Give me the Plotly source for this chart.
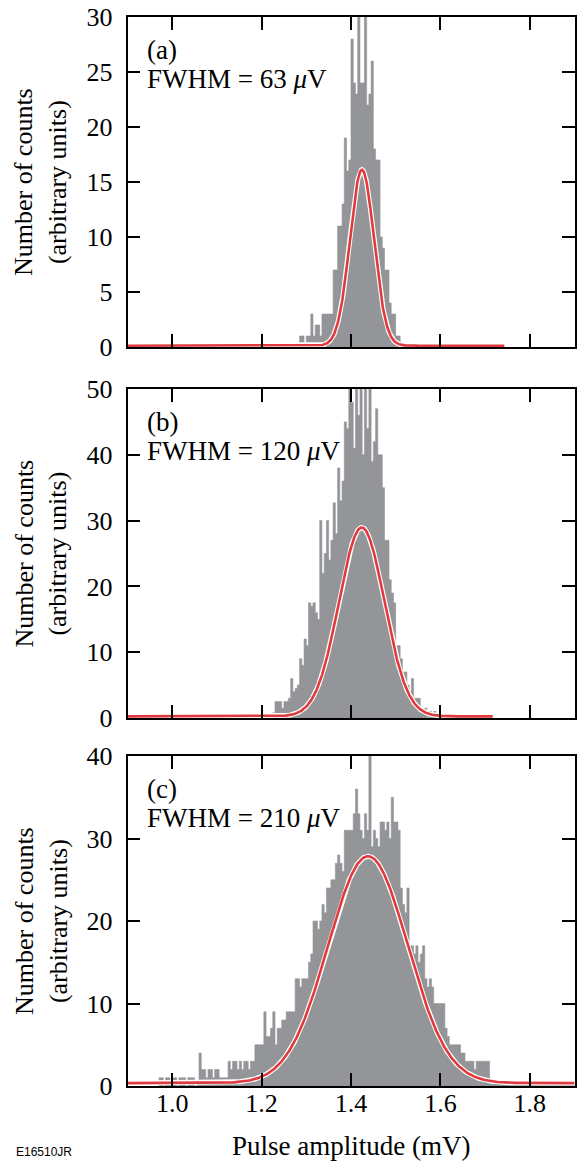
import numpy as np
import plotly.graph_objects as go

# ---------------- data ----------------
BIN_WIDTH = 0.005  # mV, histogram bin width

# Panel (a): histogram counts, bins start at a_start (mV)
a_start = 1.280
a_counts = [0, 1, 1, 0, 1, 1, 3, 1, 2, 2,
            1, 3, 3, 3, 3, 3, 7, 7, 11, 11,
            13, 19, 16, 17, 28, 24, 23, 32, 24, 24,
            32, 22, 23, 26, 18, 17, 17, 10, 9, 7,
            7, 4, 3, 3, 1, 1, 0]

# Panel (b)
b_start = 1.195
b_counts = [0.6, 0.6, 0.6, 0.6, 0.6, 0.6, 0.8, 2.5, 2.5, 2.5,
            1.5, 2.5, 2.5, 3, 6, 4, 4.5, 5, 9, 8,
            12, 11, 17.5, 17, 17.5, 16, 15, 30, 22, 25,
            30, 24, 27, 32.7, 28, 38, 33, 36, 45, 44,
            52, 48, 41, 52, 46, 52, 40, 52, 44, 52,
            39, 42, 47, 40, 40, 35, 27, 27, 21, 19,
            17.5, 11, 11, 9, 7, 7, 5, 4, 6, 3,
            3, 3, 1, 1, 1.5, 1, 1, 0.5, 1, 0.5,
            0.5, 0.5, 0.3]

# Panel (c)
c_start = 0.970
c_counts = [1, 1, 0, 1, 1, 0, 1, 1, 0, 1,
            1, 1, 0, 1, 1, 1, 0, 0.5, 4, 2,
            2, 1, 2, 2, 1, 2, 2, 1, 1, 1,
            1, 3, 2, 3, 3, 2, 3, 2, 3, 3,
            2, 3, 3, 5, 5, 5, 5, 9, 6, 6,
            7, 9, 5, 7, 7, 8, 8, 9, 9, 9,
            9, 13, 13, 12, 13, 13, 13, 15, 16, 20,
            20, 19, 20, 22, 21, 24, 24, 25, 25, 27,
            28, 27, 26, 31, 31, 31, 31, 33, 36, 33,
            31, 30, 33, 31, 40.5, 29, 31, 30, 29, 32,
            32, 31, 32, 30, 35, 32, 32, 31, 24, 22,
            21, 24, 17, 17, 16, 17, 15, 16, 17, 13,
            12, 13, 12, 10, 10, 10, 10, 10, 7, 6,
            5, 5, 5, 5, 5, 4, 4, 3, 3, 3,
            3, 2, 3, 3, 3, 3, 3, 3, 0.6, 0.5,
            0.4, 0.5, 0.4, 0.3, 0.5, 0.4, 0.4, 0.5, 0.3, 0.4,
            0.5, 0.4, 0.4, 0.3, 0.5, 0.5, 0.4, 0.4, 0.3, 0.5,
            0.4, 0.3, 0.5, 0.4, 0.4, 0.3, 0.4, 0.5, 0.4, 0.3,
            0.4, 0.5, 0.3, 0.4, 0.5, 0.4]

# Gaussian fit parameters (amplitude, centre mV, FWHM mV, baseline, curve end mV)
fit_amp = [16.0, 28.7, 27.5]
fit_center = [1.4245, 1.424, 1.438]
fit_fwhm = [0.063, 0.120, 0.210]
fit_offset = [0.12, 0.25, 0.35]
fit_xmax = [1.743, 1.717, 1.9]

panel_labels = ["(a)", "(b)", "(c)"]
fwhm_labels = ["FWHM = 63 <i>μ</i>V", "FWHM = 120 <i>μ</i>V", "FWHM = 210 <i>μ</i>V"]
y_ranges = [[0, 30], [0, 50], [0, 40]]
y_dticks = [5, 10, 10]
x_tickvals = [1.0, 1.2, 1.4, 1.6, 1.8]
x_ticktext = ["1.0", "1.2", "1.4", "1.6", "1.8"]
x_title = "Pulse amplitude (mV)"
y_title = "Number of counts<br>(arbitrary units)"

# ---------------- layout geometry (pixels) ----------------
W, H = 582, 1161
x_left, x_right = 127.5, 574.5
panel_px = [(17, 347), (389, 718), (756, 1086)]  # (top, bottom)

FONT = "Liberation Serif"
GREY = "#939598"
RED = "#e03a3e"

fig = go.Figure()

starts = [a_start, b_start, c_start]
counts = [a_counts, b_counts, c_counts]

for i in range(3):
    xa = "x" if i == 0 else f"x{i+1}"
    ya = "y" if i == 0 else f"y{i+1}"
    n = len(counts[i])
    edges = starts[i] + BIN_WIDTH * np.arange(n + 1)
    yv = list(counts[i]) + [counts[i][-1]]
    fig.add_trace(go.Scatter(
        x=edges, y=yv, mode="lines", line=dict(shape="hv", color=GREY, width=0.6),
        fill="tozeroy", fillcolor=GREY, xaxis=xa, yaxis=ya, showlegend=False,
        hoverinfo="skip"))
    xf = np.linspace(0.9, fit_xmax[i], 800)
    yf = fit_offset[i] + fit_amp[i] * np.exp(-4 * np.log(2) * (xf - fit_center[i]) ** 2 / fit_fwhm[i] ** 2)
    fig.add_trace(go.Scatter(x=xf, y=yf, mode="lines", line=dict(color="white", width=5),
                             xaxis=xa, yaxis=ya, showlegend=False, hoverinfo="skip"))
    fig.add_trace(go.Scatter(x=xf, y=yf, mode="lines", line=dict(color=RED, width=2.6),
                             xaxis=xa, yaxis=ya, showlegend=False, hoverinfo="skip"))

layout = dict(width=W, height=H, margin=dict(l=0, r=0, t=0, b=0, pad=0, autoexpand=False),
              paper_bgcolor="white", plot_bgcolor="white",
              font=dict(family=FONT, size=26, color="black"))
annotations = []
for i in range(3):
    top, bot = panel_px[i]
    xk = "xaxis" if i == 0 else f"xaxis{i+1}"
    yk = "yaxis" if i == 0 else f"yaxis{i+1}"
    ya = "y" if i == 0 else f"y{i+1}"
    layout[xk] = dict(domain=[x_left / W, x_right / W], range=[0.9, 1.9],
                      anchor=ya, tickvals=x_tickvals, ticktext=x_ticktext,
                      showticklabels=(i == 2), ticks="inside", ticklen=13, tickwidth=1.5,
                      tickcolor="black", showline=True, linecolor="black", linewidth=1.5,
                      mirror="ticks", showgrid=False, zeroline=False, automargin=False,
                      ticklabelstandoff=-7,
                      tickfont=dict(family=FONT, size=26))
    layout[yk] = dict(domain=[1 - bot / H, 1 - top / H], range=y_ranges[i],
                      anchor="x" if i == 0 else f"x{i+1}", dtick=y_dticks[i], tick0=0,
                      ticks="inside", ticklen=13, tickwidth=1.5, tickcolor="black",
                      showline=True, linecolor="black", linewidth=1.5, mirror="ticks",
                      showgrid=False, zeroline=False, ticklabelstandoff=8, automargin=False,
                      tickfont=dict(family=FONT, size=26))
    annotations.append(dict(text=panel_labels[i], x=145 / W, y=1 - (top + 33) / H,
                            xref="paper", yref="paper", xanchor="left", yanchor="middle",
                            showarrow=False, font=dict(family=FONT, size=27)))
    annotations.append(dict(text=fwhm_labels[i], x=145 / W, y=1 - (top + 62) / H,
                            xref="paper", yref="paper", xanchor="left", yanchor="middle",
                            showarrow=False, font=dict(family=FONT, size=27)))
    annotations.append(dict(text=y_title, x=41 / W, y=1 - (top + bot) / 2 / H,
                            xref="paper", yref="paper", xanchor="center", yanchor="middle",
                            textangle=-90, showarrow=False,
                            font=dict(family=FONT, size=26)))

annotations.append(dict(text=x_title, x=(x_left + x_right) / 2 / W, y=1 - 1146 / H,
                        xref="paper", yref="paper", xanchor="center", yanchor="middle",
                        showarrow=False, font=dict(family=FONT, size=27)))
annotations.append(dict(text="E16510JR", x=14 / W, y=1 - 1152 / H,
                        xref="paper", yref="paper", xanchor="left", yanchor="middle",
                        showarrow=False, font=dict(family="Liberation Sans", size=12)))
layout["annotations"] = annotations
fig.update_layout(**layout)

fig.write_html("out.html")
